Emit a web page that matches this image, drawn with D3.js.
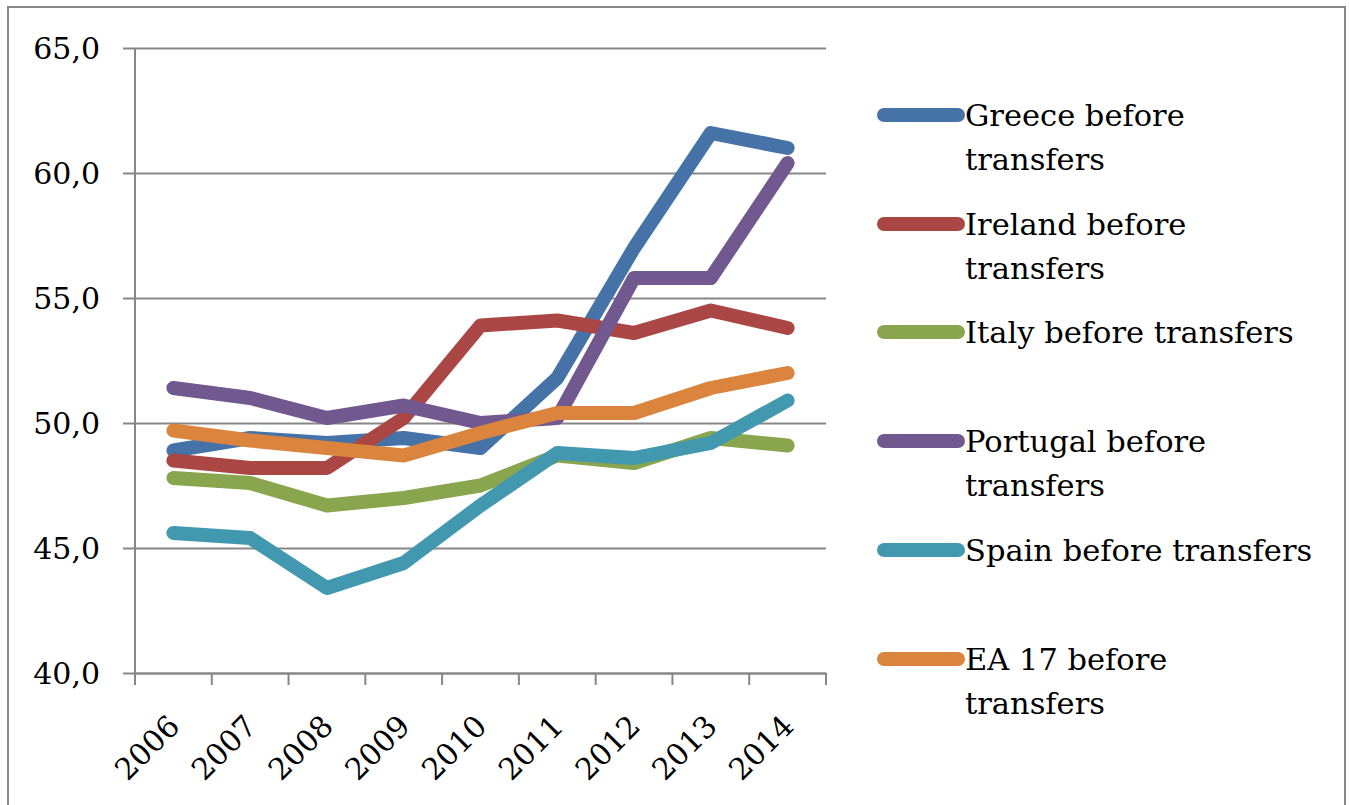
<!DOCTYPE html>
<html>
<head>
<meta charset="utf-8">
<script src="https://cdn.jsdelivr.net/npm/d3@7"></script>
<style>
  body { margin: 0; background: #fff; }
  svg text { font-family: "DejaVu Serif", "Liberation Serif", serif; fill: #000; }
</style>
</head>
<body>
<svg width="1349" height="805"></svg>
<script>
"use strict";

const years = ["2006", "2007", "2008", "2009", "2010", "2011", "2012", "2013", "2014"];
const yTicks = [40, 45, 50, 55, 60, 65];

const greece = [48.9, 49.4, 49.2, 49.4, 49.0, 51.8, 57.0, 61.6, 61.0];
const ireland = [48.5, 48.2, 48.2, 50.2, 53.9, 54.1, 53.6, 54.5, 53.8];
const italy = [47.8, 47.6, 46.7, 47.0, 47.5, 48.7, 48.4, 49.4, 49.1];
const portugal = [51.4, 51.0, 50.2, 50.7, 50.0, 50.2, 55.8, 55.8, 60.4];
const spain = [45.6, 45.4, 43.4, 44.4, 46.7, 48.8, 48.6, 49.2, 50.9];
const ea17 = [49.7, 49.3, 49.0, 48.7, 49.6, 50.4, 50.4, 51.4, 52.0];

const seriesNames = [
  ["Greece before", "transfers"],
  ["Ireland before", "transfers"],
  ["Italy before transfers"],
  ["Portugal before", "transfers"],
  ["Spain before transfers"],
  ["EA 17 before", "transfers"]
];
const seriesValues = [greece, ireland, italy, portugal, spain, ea17];
const colors = ["#4572a7", "#aa4643", "#89a54e", "#71588f", "#4198af", "#db843d"];

const svg = d3.select("svg");
const gridColor = "#878787";

// outer frame
svg.append("rect")
  .attr("x", 8).attr("y", 7)
  .attr("width", 1337).attr("height", 820)
  .attr("fill", "none")
  .attr("stroke", gridColor)
  .attr("stroke-width", 2);

const plot = { left: 135, right: 826, top: 48, bottom: 673 };

const xScale = d3.scaleBand().domain(years).range([plot.left, plot.right]);
const yScale = d3.scaleLinear().domain([40, 65]).range([plot.bottom, plot.top]);
const xc = d => xScale(d) + xScale.bandwidth() / 2;

// gridlines + y axis
const yAxis = d3.axisLeft(yScale)
  .tickValues(yTicks)
  .tickSize(-(plot.right - plot.left))
  .tickSizeOuter(0)
  .tickPadding(35)
  .tickFormat(d => d3.format(".1f")(d).replace(".", ","));

const yAxisG = svg.append("g")
  .attr("transform", `translate(${plot.left},0)`)
  .call(yAxis);
yAxisG.select(".domain").remove();
yAxisG.selectAll(".tick line")
  .attr("x1", -12)
  .attr("stroke", gridColor)
  .attr("stroke-width", 2);
yAxisG.selectAll(".tick text")
  .style("font-size", "30px")
  .attr("dy", "0.36em");

svg.append("line")
  .attr("x1", plot.left).attr("x2", plot.left)
  .attr("y1", plot.top).attr("y2", plot.bottom)
  .attr("stroke", gridColor).attr("stroke-width", 2);

// x axis
const xAxis = d3.axisBottom(xScale).tickSize(0).tickSizeOuter(0);
const xAxisG = svg.append("g")
  .attr("transform", `translate(0,${plot.bottom})`)
  .call(xAxis);
xAxisG.select(".domain").attr("stroke", gridColor).attr("stroke-width", 2);
xAxisG.selectAll(".tick text")
  .style("font-size", "30px")
  .attr("text-anchor", "end")
  .attr("transform", "translate(8,55) rotate(-45)")
  .attr("x", 0).attr("y", 0).attr("dy", 0);

const boundaries = d3.range(years.length + 1).map(i => plot.left + i * xScale.step());
svg.append("g").selectAll("line")
  .data(boundaries)
  .join("line")
  .attr("x1", d => d).attr("x2", d => d)
  .attr("y1", plot.bottom).attr("y2", plot.bottom + 12)
  .attr("stroke", gridColor).attr("stroke-width", 2);

// lines
const line = d3.line()
  .x((d, i) => xc(years[i]))
  .y(d => yScale(d));

svg.append("g").selectAll("path")
  .data(seriesValues)
  .join("path")
  .attr("d", line)
  .attr("fill", "none")
  .attr("stroke", (d, i) => colors[i])
  .attr("stroke-width", 14)
  .attr("stroke-linecap", "round")
  .attr("stroke-linejoin", "round");

// legend
const legendY = [115, 224, 332, 441, 550, 659];
const legend = svg.append("g");
seriesNames.forEach((name, i) => {
  const g = legend.append("g").attr("transform", `translate(0,${legendY[i]})`);
  g.append("line")
    .attr("x1", 884).attr("x2", 958)
    .attr("stroke", colors[i])
    .attr("stroke-width", 14)
    .attr("stroke-linecap", "round");
  const t = g.append("text")
    .attr("x", 965)
    .attr("y", 11)
    .style("font-size", "30.5px");
  name.forEach((s, j) => {
    t.append("tspan").attr("x", 965).attr("dy", j === 0 ? 0 : 44).text(s);
  });
});
</script>
</body>
</html>
